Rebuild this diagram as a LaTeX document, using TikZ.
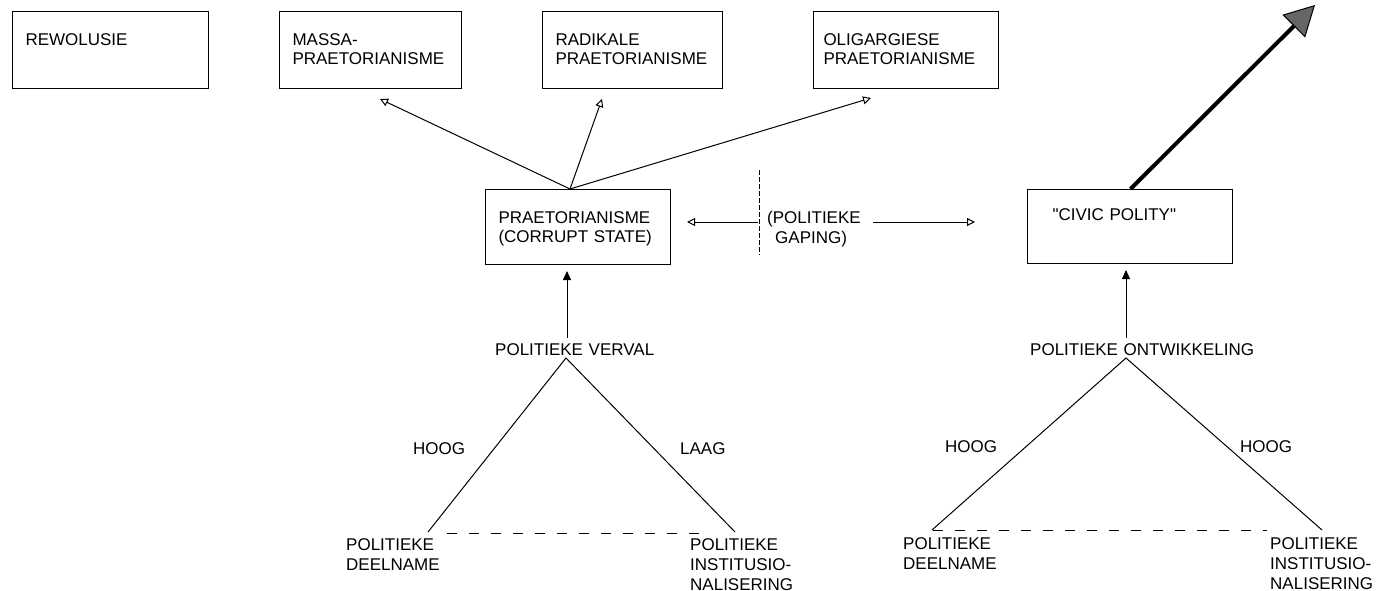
\documentclass[tikz,border=0pt]{standalone}
\usepackage{fontspec}
\setmainfont{Liberation Sans}
\newfontfamily\qfont{Liberation Sans}
\usetikzlibrary{arrows.meta,calc}
\begin{document}
\begin{tikzpicture}[x=1pt,y=-1pt,
  every node/.style={font=\fontsize{17}{19}\selectfont, inner sep=0pt},
  box/.style={draw, line width=1pt, anchor=north west, align=left,
    inner ysep=21pt, inner xsep=13pt, text height=13pt, text depth=22pt},
  lbl/.style={anchor=base west, align=left, text width=170pt},
  conn/.style={line width=1pt},
  oarrow/.style={conn, -{Triangle[open, length=8pt, width=8pt, line width=1pt]}},
  farrow/.style={conn, -{Triangle[length=9pt, width=8pt]}},
  basedash/.style={line width=1pt, dash pattern=on 10pt off 12pt},
]
\useasboundingbox (0,0) rectangle (1384,591);

% top boxes
\node[box, text width=170pt] (rew) at (12,11) {REWOLUSIE};
\node[box, text width=156pt] (mass) at (279,11) {MASSA-\\PRAETORIANISME};
\node[box, text width=154pt] (rad) at (542,11) {RADIKALE\\PRAETORIANISME};
\node[box, inner xsep=10pt, text width=165pt] (olig) at (813,11) {OLIGARGIESE\\PRAETORIANISME};

% middle boxes
\node[box, text width=159pt, text depth=20pt] (prae) at (485,189) {PRAETORIANISME\\(CORRUPT STATE)};
\node[box, inner xsep=25pt, inner ysep=18pt, text width=155pt, text depth=25pt] (civic) at (1027,189) {{\qfont"}CIVIC POLITY{\qfont"}};

% arrows from praetorianisme
\coordinate (pt) at ($(prae.north west)+(85,0)$);
\coordinate (tm) at (380,99);
\coordinate (tr) at (602,99);
\coordinate (to) at (871,98);
\draw[oarrow] (pt) -- (tm);
\draw[oarrow] (pt) -- (tr);
\draw[oarrow] (pt) -- (to);

% big arrow from civic polity
\coordinate (big) at (1315,5);
\draw[line width=4pt, -{Triangle[length=30pt, width=32pt, line width=1pt, fill=black!60]}] ($(civic.north)+(0.5,0)$) -- (big);

% politieke gaping
\node[lbl] (gap1) at (767,223) {(POLITIEKE};
\node[lbl] (gap2) at (775,243) {GAPING)};
\draw[line width=0.8pt, dash pattern=on 5pt off 2pt] (759,170) -- (759,255);
\coordinate (gl) at (758,222);
\coordinate (gr) at (873,222);
\draw[oarrow] (gl) -- (687,222);
\draw[oarrow] (gr) -- (975,222);

% left structure
\node[lbl] (verval) at (495,355) {POLITIEKE VERVAL};
\coordinate (apL) at (566,358);
\coordinate (vL) at (567,338);
\draw[farrow] (vL) -- (567,271);
\coordinate (blL) at (428,532);
\coordinate (brL) at (735,532);
\draw[conn] (blL) -- (apL) -- (brL);
\draw[basedash] (447,533) -- (705,533);
\node[lbl] (hoog1) at (413,454) {HOOG};
\node[lbl] (laag) at (680,454) {LAAG};
\node[lbl, font=\fontsize{17}{20}\selectfont] (deel1) at (346,550) {POLITIEKE\\DEELNAME};
\node[lbl, font=\fontsize{17}{20}\selectfont] (inst1) at (690,550) {POLITIEKE\\INSTITUSIO-\\NALISERING};

% right structure
\node[lbl, text width=240pt] (ontw) at (1030,355) {POLITIEKE ONTWIKKELING};
\coordinate (apR) at (1126,358);
\coordinate (vR) at (1126,338);
\draw[farrow] (vR) -- (1126,270);
\coordinate (blR) at (932,530);
\coordinate (brR) at (1322,530);
\draw[conn] (blR) -- (apR) -- (brR);
\draw[basedash] (933,530) -- (1267,530);
\node[lbl] (hoog2) at (945,452) {HOOG};
\node[lbl] (hoog3) at (1240,452) {HOOG};
\node[lbl, font=\fontsize{17}{20}\selectfont] (deel2) at (903,549) {POLITIEKE\\DEELNAME};
\node[lbl, font=\fontsize{17}{20}\selectfont, text width=110pt] (inst2) at (1270,549) {POLITIEKE\\INSTITUSIO-\\NALISERING};
\end{tikzpicture}
\end{document}
